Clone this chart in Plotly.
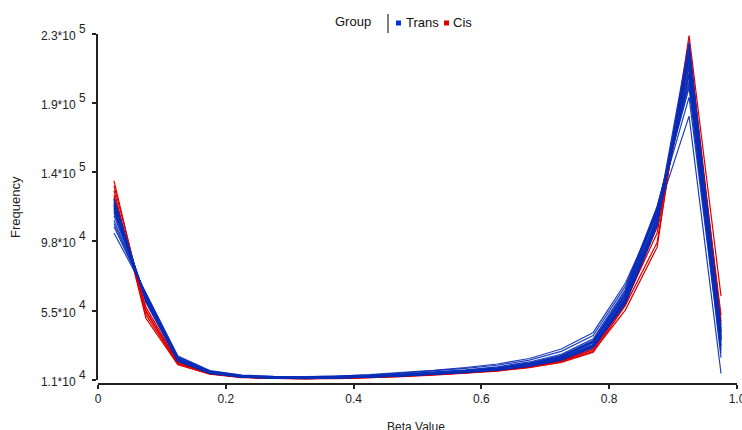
import plotly.graph_objects as go

beta_bins = [0.025, 0.075, 0.125, 0.175, 0.225, 0.275, 0.325, 0.375, 0.425, 0.475,
             0.525, 0.575, 0.625, 0.675, 0.725, 0.775, 0.825, 0.875, 0.925, 0.975]

trans_b1 = [121000, 62000, 23500, 15500, 13000, 12300, 12000, 12300, 12900, 13800, 14800, 16100, 17700, 20300, 24500, 33000, 62000, 113000, 210000, 38000]
trans_b2 = [118000, 63000, 24000, 15800, 13200, 12400, 12100, 12400, 13000, 14000, 15000, 16400, 18000, 20800, 25300, 34500, 64500, 117000, 205000, 35000]
trans_b3 = [124000, 61000, 23000, 15200, 12800, 12100, 11900, 12100, 12700, 13500, 14500, 15800, 17300, 19800, 23800, 32000, 60000, 110000, 216000, 40000]
trans_b4 = [115000, 64000, 24500, 16000, 13400, 12600, 12300, 12600, 13300, 14300, 15400, 16800, 18500, 21400, 26000, 35500, 66000, 119000, 200000, 32000]
trans_b5 = [126000, 60000, 22800, 15000, 12700, 12000, 11800, 12000, 12600, 13400, 14300, 15600, 17100, 19500, 23500, 31500, 59000, 108000, 220000, 42000]
trans_b6 = [120000, 62500, 23800, 15600, 13100, 12350, 12050, 12350, 12950, 13900, 14900, 16200, 17900, 20500, 24800, 33500, 63000, 115000, 212000, 36000]
trans_b7 = [112000, 65000, 25000, 16200, 13500, 12700, 12400, 12800, 13500, 14600, 15800, 17300, 19200, 22300, 27200, 37000, 68000, 121000, 196000, 30000]
trans_b8 = [104000, 66000, 26000, 16800, 14000, 13200, 13000, 13400, 14300, 15600, 17000, 18800, 21000, 24500, 30500, 41000, 72000, 116000, 178000, 15000]
trans_b9 = [108000, 65500, 25500, 16500, 13800, 13000, 12800, 13200, 14000, 15200, 16500, 18200, 20200, 23500, 29000, 39000, 70000, 119000, 190000, 28000]
trans_b10 = [122000, 61500, 23300, 15400, 12900, 12200, 11950, 12250, 12850, 13700, 14700, 16000, 17600, 20100, 24200, 32800, 61000, 112000, 222000, 44000]
trans_b11 = [119000, 62800, 23700, 15700, 13150, 12450, 12150, 12450, 13050, 14050, 15100, 16500, 18200, 21000, 25500, 34800, 65000, 118000, 208000, 37000]
trans_b12 = [117000, 63500, 24200, 15900, 13300, 12500, 12200, 12500, 13150, 14150, 15200, 16600, 18300, 21100, 25700, 35000, 64000, 114000, 203000, 33000]
trans_b13 = [123000, 61200, 23100, 15300, 12850, 12150, 11900, 12150, 12750, 13600, 14600, 15900, 17400, 19900, 24000, 32300, 60500, 111000, 218000, 41000]
trans_b14 = [125000, 60500, 22900, 15100, 12750, 12050, 11850, 12050, 12650, 13450, 14400, 15700, 17200, 19600, 23600, 31700, 59500, 109000, 214000, 39000]
trans_b15 = [110000, 64500, 24800, 16100, 13450, 12650, 12350, 12700, 13400, 14450, 15600, 17000, 18800, 21800, 26500, 36000, 67000, 120000, 198000, 25000]
trans_b16 = [121500, 62200, 23600, 15550, 13050, 12320, 12020, 12320, 12920, 13850, 14850, 16150, 17800, 20400, 24600, 33200, 62500, 113500, 225000, 36500]

cis_r1 = [137000, 52000, 21000, 14800, 12600, 11900, 11700, 11900, 12400, 13200, 14100, 15300, 16800, 19000, 22500, 29000, 55000, 95000, 229000, 64000]
cis_r2 = [131000, 50000, 20500, 14500, 12400, 11800, 11600, 11800, 12300, 13000, 13900, 15100, 16500, 18700, 22000, 28500, 58000, 98000, 224000, 48000]
cis_r3 = [128000, 54000, 21500, 15000, 12700, 12000, 11800, 12000, 12500, 13400, 14300, 15500, 17000, 19300, 23000, 30500, 60000, 104000, 215000, 52000]
cis_r4 = [126000, 57000, 22000, 15200, 12800, 12100, 11850, 12100, 12600, 13500, 14400, 15700, 17200, 19600, 23500, 31500, 62000, 110000, 205000, 42000]
cis_r5 = [134000, 55000, 21200, 14900, 12650, 11950, 11750, 11950, 12450, 13300, 14200, 15400, 16900, 19100, 22800, 30000, 59000, 108000, 218000, 46000]

trans_series = [trans_b1, trans_b2, trans_b3, trans_b4, trans_b5, trans_b6, trans_b7, trans_b8,
                trans_b9, trans_b10, trans_b11, trans_b12, trans_b13, trans_b14, trans_b15, trans_b16]
cis_series = [cis_r1, cis_r2, cis_r3, cis_r4, cis_r5]

y_tick_vals = [11000, 54800, 98600, 142400, 186200, 230000]
y_tick_mant = ["1.1", "5.5", "9.8", "1.4", "1.9", "2.3"]
y_tick_exp = ["4", "4", "4", "5", "5", "5"]
y_tick_text = [f"<span style='font-size:12px'>{m}*10 </span><sup>{e}</sup>"
               for m, e in zip(y_tick_mant, y_tick_exp)]
x_tick_vals = [0, 0.2, 0.4, 0.6, 0.8, 1.0]
x_tick_text = ["0", "0.2", "0.4", "0.6", "0.8", "1.0"]

TRANS_COLOR = "#0b2fb8"
CIS_COLOR = "#e00000"
FONT = "Liberation Sans, Arial, sans-serif"

fig = go.Figure()
for s in cis_series:
    fig.add_trace(go.Scatter(x=beta_bins, y=s, mode="lines",
                             line=dict(color=CIS_COLOR, width=1.2),
                             showlegend=False, hoverinfo="skip"))
for s in trans_series:
    fig.add_trace(go.Scatter(x=beta_bins, y=s, mode="lines",
                             line=dict(color=TRANS_COLOR, width=1.2),
                             opacity=0.9, showlegend=False, hoverinfo="skip"))

fig.update_layout(
    width=742, height=430,
    margin=dict(l=98, r=5, t=34, b=46, autoexpand=False),
    paper_bgcolor="white", plot_bgcolor="white",
    font=dict(family=FONT, size=12, color="#222"),
    showlegend=False,
    xaxis=dict(range=[0, 1], domain=[0, 1], anchor="free", position=0,
               automargin=False,
               showline=True, linecolor="#222", linewidth=2,
               ticks="outside", ticklen=4, tickwidth=1.5, tickcolor="#222",
               tickvals=x_tick_vals, ticktext=x_tick_text,
               ticklabeloverflow="allow",
               showgrid=False, zeroline=False,
               tickfont=dict(family=FONT, size=12, color="#222")),
    yaxis=dict(range=[11000, 230000], domain=[0.012, 1],
               automargin=False,
               showline=True, linecolor="#222", linewidth=2,
               ticks="outside", ticklen=4, tickwidth=1.5, tickcolor="#222",
               tickvals=y_tick_vals, ticktext=y_tick_text,
               ticklabelstandoff=3,
               showgrid=False, zeroline=False,
               tickfont=dict(family=FONT, size=17, color="#222")),
)

def px_x(px):
    return (px - 98) / 639.0

def px_y(py):
    return (384 - py) / 350.0

annotations = [
    dict(text="Frequency", x=px_x(15), y=px_y(207), xref="paper", yref="paper",
         xanchor="center", yanchor="middle",
         textangle=-90, showarrow=False, font=dict(size=13, color="#222")),
    dict(text="Beta Value", x=px_x(416), y=px_y(418), xref="paper", yref="paper",
         xanchor="center", yanchor="top", showarrow=False, font=dict(size=12, color="#222")),
    dict(text="Group", x=px_x(353), y=px_y(21), xref="paper", yref="paper",
         xanchor="center", yanchor="middle", showarrow=False, font=dict(size=13, color="#111")),
    dict(text="Trans", x=px_x(404), y=px_y(22), xref="paper", yref="paper",
         xanchor="left", yanchor="middle", showarrow=False, font=dict(size=13, color="#111")),
    dict(text="Cis", x=px_x(451), y=px_y(22), xref="paper", yref="paper",
         xanchor="left", yanchor="middle", showarrow=False, font=dict(size=13, color="#111")),
]
shapes = [
    dict(type="line", xref="paper", yref="paper", x0=px_x(388), x1=px_x(388),
         y0=px_y(14), y1=px_y(33), line=dict(color="#555", width=1.5)),
    dict(type="rect", xref="paper", yref="paper", x0=px_x(396), x1=px_x(401),
         y0=px_y(25.5), y1=px_y(20.5), fillcolor="#0033dd", line=dict(width=0)),
    dict(type="rect", xref="paper", yref="paper", x0=px_x(444), x1=px_x(449),
         y0=px_y(25.5), y1=px_y(20.5), fillcolor="#dd0000", line=dict(width=0)),
]
fig.update_layout(annotations=annotations, shapes=shapes)

fig.write_html("out.html")
